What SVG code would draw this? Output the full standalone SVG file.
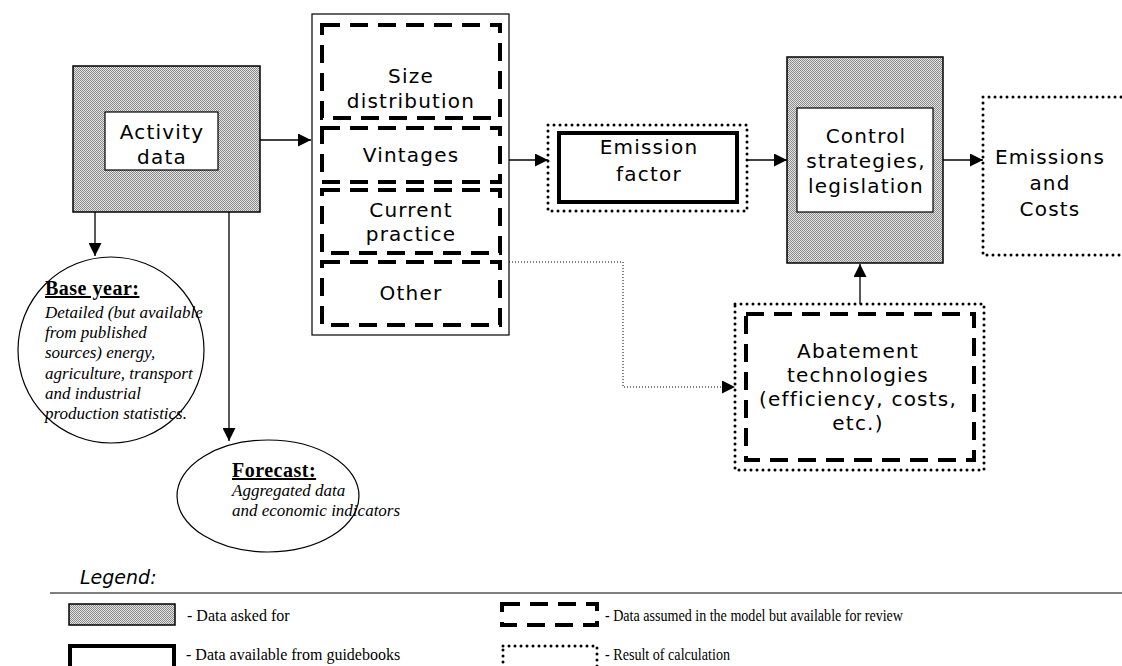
<svg xmlns="http://www.w3.org/2000/svg" width="1122" height="666" viewBox="0 0 1122 666">
<defs>
<pattern id="shade" width="2" height="2" patternUnits="userSpaceOnUse">
<rect width="2" height="2" fill="#e4e4e4"/>
<rect x="0" y="0" width="1" height="1" fill="#8a8a8a"/>
<rect x="1" y="1" width="1" height="1" fill="#8a8a8a"/>
</pattern>
<marker id="arr" viewBox="0 0 10 10" refX="10" refY="5" markerWidth="13" markerHeight="13" markerUnits="userSpaceOnUse" orient="auto">
<path d="M0,0 L10,5 L0,10 Z" fill="#000"/>
</marker>
</defs>
<style>
.shaded{fill:url(#shade);stroke:#000;stroke-width:1.5}
.plain{fill:#fff;stroke:#000;stroke-width:1.2}
.thick{fill:#fff;stroke:#000;stroke-width:4}
.dash{fill:none;stroke:#000;stroke-width:4;stroke-dasharray:18 10}
.dot{fill:none;stroke:#000;stroke-width:3;stroke-dasharray:0 6;stroke-linecap:round}
.t{font-family:"DejaVu Sans",sans-serif;font-size:20px;letter-spacing:1.2px;text-anchor:middle;fill:#000}
.s{font-family:"Liberation Serif",serif;font-style:italic;font-size:17px;fill:#000}
.h{font-family:"Liberation Serif",serif;font-weight:bold;font-size:20px;letter-spacing:0.5px;text-decoration:underline;fill:#000}
.lg{font-family:"Liberation Serif",serif;font-size:16px;fill:#000}
.ln{stroke:#000;stroke-width:1.3;fill:none}
</style>
<rect width="1122" height="666" fill="#fff"/>

<g id="connectors">
<line class="ln" x1="260" y1="140" x2="311" y2="140" marker-end="url(#arr)"/>
<line class="ln" x1="509" y1="160" x2="548" y2="160" marker-end="url(#arr)"/>
<line class="ln" x1="747" y1="160" x2="787" y2="160" marker-end="url(#arr)"/>
<line class="ln" x1="943" y1="160" x2="983" y2="160" marker-end="url(#arr)"/>
<line class="ln" x1="860" y1="304" x2="860" y2="264" marker-end="url(#arr)"/>
<line class="ln" x1="95" y1="212" x2="95" y2="256" marker-end="url(#arr)"/>
<line class="ln" x1="229" y1="212" x2="229" y2="441" marker-end="url(#arr)"/>
<polyline fill="none" stroke="#000" stroke-width="1" stroke-dasharray="1 2" points="500,262 623,262 623,387 735,387" marker-end="url(#arr)"/>
</g>

<g id="activity">
<rect class="shaded" x="73" y="66" width="187" height="146"/>
<rect class="plain" x="105" y="112" width="113" height="58"/>
<text class="t" x="162" y="139">Activity</text>
<text class="t" x="162" y="164">data</text>
</g>

<g id="column">
<rect fill="#fff" stroke="#000" stroke-width="1.2" x="312" y="14" width="197" height="321"/>
</g>
<g id="size">
<rect class="dash" x="322" y="25" width="178" height="93"/>
<text class="t" x="411" y="83">Size</text>
<text class="t" x="411" y="108">distribution</text>
</g>
<g id="vintages">
<rect class="dash" x="322" y="128" width="178" height="54"/>
<text class="t" x="411" y="162">Vintages</text>
</g>
<g id="practice">
<rect class="dash" x="322" y="190" width="178" height="63"/>
<text class="t" x="411" y="217">Current</text>
<text class="t" x="411" y="241">practice</text>
</g>
<g id="other">
<rect class="dash" x="322" y="262" width="178" height="63"/>
<text class="t" x="411" y="300">Other</text>
</g>

<g id="emission-factor">
<rect class="dot" x="548" y="125" width="199" height="86"/>
<rect class="thick" x="559" y="133" width="178" height="69"/>
<text class="t" x="649" y="154">Emission</text>
<text class="t" x="649" y="181">factor</text>
</g>

<g id="control">
<rect class="shaded" x="787" y="57" width="156" height="206"/>
<rect class="plain" x="797" y="108" width="136" height="104"/>
<text class="t" x="866" y="143">Control</text>
<text class="t" x="866" y="168">strategies,</text>
<text class="t" x="866" y="193">legislation</text>
</g>

<g id="emissions-costs">
<rect class="dot" x="983" y="97" width="160" height="158"/>
<text class="t" x="1050" y="164">Emissions</text>
<text class="t" x="1050" y="190">and</text>
<text class="t" x="1050" y="216">Costs</text>
</g>

<g id="abatement">
<rect class="dot" x="735" y="304" width="249" height="166"/>
<rect class="dash" x="746" y="314" width="228" height="146"/>
<text class="t" x="858" y="358">Abatement</text>
<text class="t" x="858" y="382">technologies</text>
<text class="t" x="858" y="406">(efficiency, costs,</text>
<text class="t" x="858" y="430">etc.)</text>
</g>

<g id="base-year">
<circle cx="111" cy="350" r="93" fill="#fff" stroke="#000" stroke-width="1.2"/>
<text class="h" x="45" y="295">Base year:</text>
<text class="s" x="45" y="318">Detailed (but available</text>
<text class="s" x="45" y="338">from published</text>
<text class="s" x="45" y="358">sources) energy,</text>
<text class="s" x="45" y="379">agriculture, transport</text>
<text class="s" x="45" y="399">and industrial</text>
<text class="s" x="45" y="419">production statistics.</text>
</g>

<g id="forecast">
<ellipse cx="268" cy="496" rx="91" ry="56" fill="#fff" stroke="#000" stroke-width="1.2"/>
<text class="h" x="232" y="477">Forecast:</text>
<text class="s" x="232" y="496">Aggregated data</text>
<text class="s" x="232" y="516">and economic indicators</text>
</g>

<g id="legend">
<text x="80" y="584" font-family="DejaVu Sans,sans-serif" font-style="italic" font-size="19px">Legend:</text>
<line x1="50" y1="593" x2="1122" y2="593" stroke="#000" stroke-width="1.2"/>
<rect class="shaded" x="69" y="604" width="106" height="21" stroke-width="1"/>
<text class="lg" x="187" y="621">- Data asked for</text>
<rect class="thick" x="70" y="646" width="104" height="22"/>
<text class="lg" x="186" y="660">- Data available from guidebooks</text>
<rect class="dash" x="502" y="604" width="95" height="21" stroke-dasharray="14 11"/>
<text class="lg" x="605" y="621" textLength="298" lengthAdjust="spacingAndGlyphs">- Data assumed in the model but available for review</text>
<rect class="dot" x="503" y="646" width="94" height="22" stroke-width="2" stroke-dasharray="0 5"/>
<text class="lg" x="605" y="660" textLength="125" lengthAdjust="spacingAndGlyphs">- Result of calculation</text>
</g>
</svg>
